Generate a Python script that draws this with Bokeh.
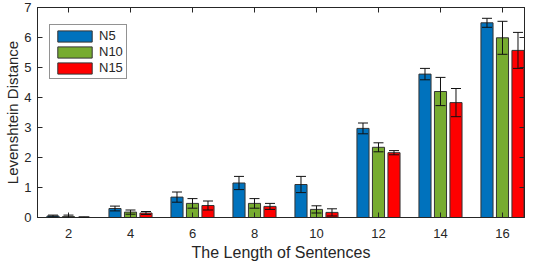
from bokeh.plotting import figure
from bokeh.models import ColumnDataSource, Whisker, FixedTicker, LinearAxis, Range1d, Legend, LegendItem, TeeHead
from bokeh.transform import dodge
from bokeh.embed import file_html
from bokeh.resources import INLINE

lengths = [2, 4, 6, 8, 10, 12, 14, 16]
n5 = [0.05, 0.30, 0.68, 1.15, 1.10, 2.97, 4.78, 6.49]
n5_err = [0.03, 0.08, 0.17, 0.22, 0.27, 0.18, 0.19, 0.15]
n10 = [0.03, 0.18, 0.47, 0.47, 0.27, 2.34, 4.20, 5.99]
n10_err = [0.05, 0.07, 0.16, 0.16, 0.12, 0.15, 0.47, 0.55]
n15 = [0.01, 0.15, 0.40, 0.37, 0.17, 2.16, 3.83, 5.57]
n15_err = [0.01, 0.05, 0.15, 0.10, 0.12, 0.07, 0.47, 0.60]
y_ticks = [0, 1, 2, 3, 4, 5, 6, 7]

series = [("N5", n5, n5_err, "#0072BD", -0.5),
          ("N10", n10, n10_err, "#77AC30", 0.0),
          ("N15", n15, n15_err, "#FF0000", 0.5)]

FONT = "Liberation Sans"
TXT = "#262626"

p = figure(width=536, height=265, output_backend="svg", toolbar_location=None,
           x_range=Range1d(1, 16.71), y_range=Range1d(0, 7),
           min_border_left=37, min_border_right=12, min_border_top=7, min_border_bottom=48)
p.outline_line_color = TXT
p.xgrid.visible = False
p.ygrid.visible = False

items = []
for name, vals, err, color, off in series:
    src = ColumnDataSource(dict(x=lengths, y=vals,
                                lo=[v - e for v, e in zip(vals, err)],
                                hi=[v + e for v, e in zip(vals, err)]))
    r = p.vbar(x=dodge("x", off), top="y", width=0.39, source=src,
               fill_color=color, line_color="#333333", line_width=1)
    items.append(LegendItem(label=name, renderers=[r]))
    w = Whisker(base=dodge("x", off), upper="hi", lower="lo", source=src,
                line_color="#111111", line_width=1, level="overlay",
                upper_head=TeeHead(size=10, line_color="#111111", line_width=1),
                lower_head=TeeHead(size=10, line_color="#111111", line_width=1))
    p.add_layout(w)

for ax in (p.xaxis[0], p.yaxis[0]):
    ax.major_tick_in = 5
    ax.major_tick_out = 0
    ax.minor_tick_in = 0
    ax.minor_tick_out = 0
    ax.axis_line_color = TXT
    ax.major_tick_line_color = TXT
    ax.major_label_text_font = FONT
    ax.major_label_text_font_size = "13px"
    ax.major_label_text_color = TXT
    ax.axis_label_text_font = FONT
    ax.axis_label_text_font_style = "normal"
    ax.axis_label_text_color = TXT

p.xaxis.ticker = FixedTicker(ticks=lengths)
p.yaxis.ticker = FixedTicker(ticks=y_ticks)
p.xaxis.axis_label = "The Length of Sentences"
p.yaxis.axis_label = "Levenshtein Distance"
p.xaxis.axis_label_text_font_size = "16px"
p.yaxis.axis_label_text_font_size = "15px"
p.xaxis.major_label_standoff = 11
p.xaxis.axis_label_standoff = 3
p.yaxis.major_label_standoff = 6
p.yaxis.axis_label_standoff = 0

top = LinearAxis(ticker=FixedTicker(ticks=lengths))
right = LinearAxis(ticker=FixedTicker(ticks=y_ticks))
for ax in (top, right):
    ax.major_tick_in = 5
    ax.major_tick_out = 0
    ax.minor_tick_in = 0
    ax.minor_tick_out = 0
    ax.major_label_text_font_size = "1px"
    ax.major_label_text_color = None
    ax.major_label_standoff = 0
    ax.axis_line_color = TXT
    ax.major_tick_line_color = TXT
p.add_layout(top, "above")
p.add_layout(right, "right")

legend = Legend(items=items, location=(12, 138), margin=0,
                glyph_width=43, glyph_height=14, spacing=1, padding=3,
                label_standoff=3, label_text_font=FONT, label_text_font_size="13px",
                label_text_color=TXT, label_height=14, label_width=20,
                border_line_color=TXT, border_line_width=1, background_fill_alpha=1)
p.add_layout(legend)

open("out.html", "w").write(file_html(p, INLINE))
